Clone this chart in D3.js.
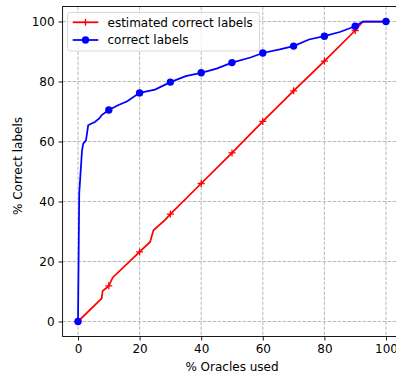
<!DOCTYPE html>
<html>
<head>
<meta charset="utf-8">
<script src="https://d3js.org/d3.v7.min.js"></script>
<style>
body { margin: 0; background: #fff; }
text { font-family: "DejaVu Sans", sans-serif; }
</style>
</head>
<body>
<div id="chart"></div>
<script>
// data
var blueX = [0, 0.4, 1.3, 1.7, 2.6, 3.3, 4.4, 5.5, 6.9, 7.7, 10, 13, 16, 20, 25, 30, 35, 40, 45, 50, 56, 60, 65.5, 70, 75, 80, 85, 90, 92.5, 100];
var blueY = [0, 42.7, 57, 59.3, 60.4, 65.4, 66, 66.5, 67.7, 68.8, 70.5, 72.1, 73.4, 76.2, 77.3, 79.8, 81.8, 82.9, 84.3, 86.3, 88, 89.5, 90.7, 91.8, 94, 95.1, 96.5, 98.4, 100, 100];
var redX = [0, 7.7, 8, 9, 10, 11.3, 20, 23.4, 24.5, 28.2, 30, 40, 50, 60, 70, 80, 90, 92.5, 100];
var redY = [0, 7.7, 10.2, 11, 11.9, 14.7, 23.2, 26.5, 30.4, 33.8, 35.8, 46, 56.2, 66.7, 76.9, 86.8, 97, 100, 100];
var ticks = [0, 20, 40, 60, 80, 100];
var seriesNames = ["estimated correct labels", "correct labels"];

var W = 396, H = 380;
var pLeft = 62.6, pRight = 401.4, pTop = 6.5, pBottom = 336.5;
var fs = 12;

var svg = d3.select("#chart").append("svg").attr("width", W).attr("height", H);

var x = d3.scaleLinear().domain([-5, 105]).range([pLeft, pRight]);
var y = d3.scaleLinear().domain([-5, 105]).range([pBottom, pTop]);

// grid
var grid = svg.append("g").attr("stroke", "#b0b0b0").attr("stroke-width", 0.9).attr("stroke-dasharray", "3.5,1.5");
ticks.forEach(function(t) {
	grid.append("line").attr("x1", x(t)).attr("x2", x(t)).attr("y1", pTop).attr("y2", pBottom);
	grid.append("line").attr("y1", y(t)).attr("y2", y(t)).attr("x1", pLeft).attr("x2", pRight);
});

// axes
var xAxis = d3.axisBottom(x).tickValues(ticks).tickSize(4).tickPadding(4);
var yAxis = d3.axisLeft(y).tickValues(ticks).tickSize(4).tickPadding(4);
var gx = svg.append("g").attr("transform", "translate(0," + pBottom + ")").call(xAxis);
var gy = svg.append("g").attr("transform", "translate(" + pLeft + ",0)").call(yAxis);
[gx, gy].forEach(function(g) {
	g.select(".domain").remove();
	g.selectAll("line").attr("stroke", "#000").attr("stroke-width", 0.9);
	g.selectAll("text").attr("font-family", "DejaVu Sans").attr("font-size", fs).attr("fill", "#000");
});

// spines
svg.append("rect").attr("x", pLeft).attr("y", pTop).attr("width", pRight - pLeft).attr("height", pBottom - pTop)
	.attr("fill", "none").attr("stroke", "#000").attr("stroke-width", 0.9);

// lines
var line = d3.line().x(function(d) { return x(d[0]); }).y(function(d) { return y(d[1]); });
var red = redX.map(function(v, i) { return [v, redY[i]]; });
var blue = blueX.map(function(v, i) { return [v, blueY[i]]; });

svg.append("path").datum(red).attr("d", line).attr("fill", "none").attr("stroke", "#ff0000").attr("stroke-width", 1.75);
svg.selectAll(".rm").data(red.filter(function(d) { return d[0] % 10 === 0; })).enter()
	.append("path").attr("class", "rm")
	.attr("d", "M-3.5,0H3.5M0,-3.5V3.5")
	.attr("transform", function(d) { return "translate(" + x(d[0]) + "," + y(d[1]) + ")"; })
	.attr("stroke", "#ff0000").attr("stroke-width", 1.3);

svg.append("path").datum(blue).attr("d", line).attr("fill", "none").attr("stroke", "#0000ff").attr("stroke-width", 1.75);
svg.selectAll(".bm").data(blue.filter(function(d) { return d[0] % 10 === 0; })).enter()
	.append("circle").attr("class", "bm")
	.attr("cx", function(d) { return x(d[0]); })
	.attr("cy", function(d) { return y(d[1]); })
	.attr("r", 3.7).attr("fill", "#0000ff");

// axis labels
svg.append("text").attr("x", (pLeft + pRight) / 2).attr("y", 371).attr("text-anchor", "middle")
	.attr("font-size", fs).text("% Oracles used");
svg.append("text").attr("transform", "translate(22,166) rotate(-90)").attr("text-anchor", "middle")
	.attr("font-size", fs).text("% Correct labels");

// legend
var lg = svg.append("g");
lg.append("rect").attr("x", 67.5).attr("y", 12.5).attr("width", 192).attr("height", 38.5).attr("rx", 2.5)
	.attr("fill", "#fff").attr("fill-opacity", 0.8).attr("stroke", "#d5d5d5").attr("stroke-width", 0.9);
var rows = [22.3, 40];
lg.append("line").attr("x1", 72.7).attr("x2", 98.3).attr("y1", rows[0]).attr("y2", rows[0]).attr("stroke", "#ff0000").attr("stroke-width", 1.75);
lg.append("path").attr("d", "M-3.5,0H3.5M0,-3.5V3.5").attr("transform", "translate(85.5," + rows[0] + ")")
	.attr("stroke", "#ff0000").attr("stroke-width", 1.3);
lg.append("line").attr("x1", 72.7).attr("x2", 98.3).attr("y1", rows[1]).attr("y2", rows[1]).attr("stroke", "#0000ff").attr("stroke-width", 1.75);
lg.append("circle").attr("cx", 85.5).attr("cy", rows[1]).attr("r", 3.7).attr("fill", "#0000ff");
seriesNames.forEach(function(n, i) {
	lg.append("text").attr("x", 107.5).attr("y", rows[i]).attr("dy", "0.35em").attr("font-size", fs).text(n);
});
</script>
</body>
</html>
